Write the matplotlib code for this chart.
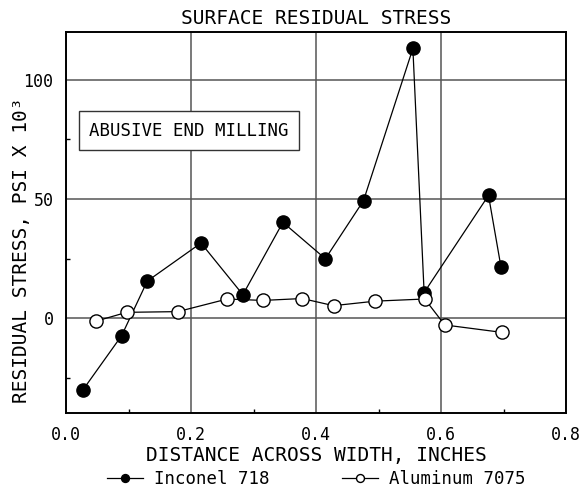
import matplotlib
matplotlib.use("Agg")
import matplotlib.pyplot as plt
from matplotlib.ticker import MultipleLocator

# distance across width (in) and residual stress (ksi)
inconel_x = [0.027, 0.089, 0.130, 0.216, 0.283, 0.347, 0.415, 0.476, 0.555, 0.573, 0.676, 0.696]
inconel_y = [-30.2, -7.4, 15.5, 31.5, 9.8, 40.2, 24.9, 49.3, 113.2, 10.7, 51.5, 21.4]
alum_x = [0.048, 0.097, 0.179, 0.258, 0.315, 0.378, 0.428, 0.495, 0.574, 0.606, 0.697]
alum_y = [-1.3, 2.4, 2.7, 8.0, 7.4, 8.2, 5.2, 7.1, 8.0, -2.9, -6.0]
x_ticks = [0.0, 0.2, 0.4, 0.6, 0.8]
x_ticklabels = ["0.0", "0.2", "0.4", "0.6", "0.8"]
y_ticks = [0, 50, 100]

FONT = "DejaVu Sans Mono"
plt.rcParams["font.family"] = FONT

fig = plt.figure(figsize=(5.82, 4.91), dpi=100)
ax = fig.add_axes([66 / 582, 77.7 / 491, 500 / 582, 381 / 491])

ax.plot(inconel_x, inconel_y, "-o", color="black", lw=0.9, ms=9.5,
        mfc="black", mec="black", label="Inconel 718", zorder=3)
ax.plot(alum_x, alum_y, "-o", color="black", lw=0.9, ms=9.5,
        mfc="white", mec="black", mew=1.0, label="Aluminum 7075", zorder=4)

ax.set_xlim(0, 0.8)
ax.set_ylim(-40, 120)
ax.set_xticks(x_ticks)
ax.set_xticklabels(x_ticklabels)
ax.xaxis.set_minor_locator(MultipleLocator(0.1))
ax.set_yticks(y_ticks)
ax.yaxis.set_minor_locator(MultipleLocator(25))
ax.grid(True, which="major", color="#555555", lw=1.1)
ax.set_axisbelow(True)
ax.tick_params(which="major", length=0, pad=9, labelsize=12)
ax.tick_params(which="minor", direction="in", length=3, width=1)
for s in ax.spines.values():
    s.set_linewidth(1.4)

ax.set_title("SURFACE RESIDUAL STRESS", fontsize=14, pad=6)
ax.set_xlabel("DISTANCE ACROSS WIDTH, INCHES", fontsize=14)
ax.xaxis.set_label_coords(0.5, -0.085)
fig.text(21.5 / 582, 1 - 250 / 491, "RESIDUAL STRESS, PSI X 10³", rotation=90,
         ha="center", va="center", fontsize=14)

ax.text(0.246, 0.742, "ABUSIVE END MILLING", transform=ax.transAxes,
        ha="center", va="center", fontsize=12.5,
        bbox=dict(boxstyle="square,pad=0.6", fc="white", ec="#333333", lw=1))

fig.legend(loc="center", bbox_to_anchor=(316 / 582, 1 - 479 / 491), ncol=2, frameon=False,
           fontsize=12.5, markerscale=0.6, handlelength=2.1, columnspacing=4.2,
           handletextpad=0.6)

fig.savefig("out.png", dpi=100)
